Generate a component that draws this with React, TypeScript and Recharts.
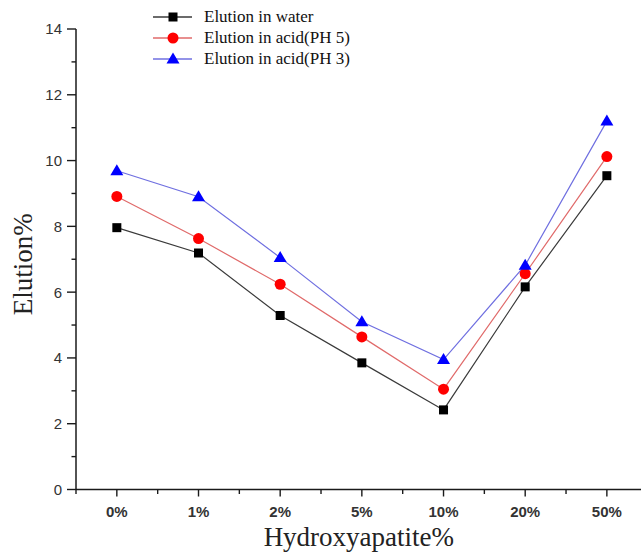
import React from 'react';
import { LineChart, Line, XAxis, YAxis, Legend } from 'recharts';

// Hydroxyapatite content on the x axis
const categories = ['0%', '1%', '2%', '5%', '10%', '20%', '50%'];

// Elution%
const waterValues = [7.96, 7.19, 5.29, 3.85, 2.42, 6.16, 9.54];
const acidPh5Values = [8.91, 7.63, 6.24, 4.64, 3.05, 6.56, 10.12];
const acidPh3Values = [9.69, 8.9, 7.05, 5.1, 3.95, 6.82, 11.2];

const yTicks = [0, 1, 2, 3, 4, 5, 6, 7, 8, 9, 10, 11, 12, 13, 14];

const SERIF = '"Liberation Serif", "Times New Roman", serif';
const SANS = '"Liberation Sans", Arial, sans-serif';
const AXIS_COLOR = '#1a1a1a';

type Shape = 'square' | 'circle' | 'triangle';

const series: { key: string; name: string; values: number[]; line: string; marker: string; shape: Shape }[] = [
  { key: 'water', name: 'Elution in water', values: waterValues, line: '#3a3a3a', marker: '#000000', shape: 'square' },
  { key: 'ph5', name: 'Elution in acid(PH 5)', values: acidPh5Values, line: '#e06a6a', marker: '#ff0000', shape: 'circle' },
  { key: 'ph3', name: 'Elution in acid(PH 3)', values: acidPh3Values, line: '#6f6fe0', marker: '#0000ff', shape: 'triangle' },
];

const chartData = categories.map((cat, i) => {
  const row: { [k: string]: string | number } = { cat };
  series.forEach(s => {
    row[s.key] = s.values[i];
  });
  return row;
});

function Marker({ shape, cx, cy, color }: { shape: Shape; cx: number; cy: number; color: string }) {
  if (shape === 'square') {
    return <rect x={cx - 4.5} y={cy - 4.5} width={9} height={9} fill={color} />;
  }
  if (shape === 'circle') {
    return <circle cx={cx} cy={cy} r={5.5} fill={color} />;
  }
  return (
    <polygon
      points={`${cx},${cy - 6.5} ${cx + 6.5},${cy + 4.5} ${cx - 6.5},${cy + 4.5}`}
      fill={color}
    />
  );
}

// y axis: long ticks with labels on even values, short ticks in between
const YTick = (props: any) => {
  const { x, y, payload } = props;
  const major = payload.value % 2 === 0;
  return (
    <g>
      <line x1={x - (major ? 9 : 4.5)} x2={x} y1={y} y2={y} stroke={AXIS_COLOR} strokeWidth={1.4} />
      {major && (
        <text
          x={x - 14}
          y={y}
          dy="0.36em"
          textAnchor="end"
          fontSize={15}
          fontFamily={SANS}
          fill="#333"
        >
          {payload.value}
        </text>
      )}
    </g>
  );
};

// x axis: ticks at the categories, short ticks on the band edges
const XTick = (props: any) => {
  const { x, y, payload, index, visibleTicksCount } = props;
  const count = visibleTicksCount || categories.length;
  const step = (typeof props.width === 'number' ? props.width : 571.7) / count;
  return (
    <g>
      <line x1={x} x2={x} y1={y} y2={y + 7} stroke={AXIS_COLOR} strokeWidth={1.4} />
      <line x1={x - step / 2} x2={x - step / 2} y1={y} y2={y + 4.5} stroke={AXIS_COLOR} strokeWidth={1.4} />
      {index === count - 1 && (
        <line x1={x + step / 2} x2={x + step / 2} y1={y} y2={y + 4.5} stroke={AXIS_COLOR} strokeWidth={1.4} />
      )}
      <text x={x} y={y + 27.5} textAnchor="middle" fontSize={15} fontWeight="bold" fontFamily={SANS} fill="#333">
        {payload.value}
      </text>
    </g>
  );
};

const renderLegend = () => (
  <div style={{ fontFamily: SERIF, fontSize: 17, color: '#111' }}>
    {series.map(s => (
      <div key={s.key} style={{ display: 'flex', alignItems: 'center', height: 21 }}>
        <svg width={39} height={14} style={{ display: 'block' }}>
          <line x1={0} x2={39} y1={7} y2={7} stroke={s.line} strokeWidth={1.5} />
          <Marker shape={s.shape} cx={20} cy={7} color={s.marker} />
        </svg>
        <span style={{ marginLeft: 12, whiteSpace: 'nowrap' }}>{s.name}</span>
      </div>
    ))}
  </div>
);

const renderYLabel = (props: any) => {
  const { viewBox } = props;
  const cx = viewBox.x + 23;
  const cy = viewBox.y + viewBox.height / 2 + 5;
  return (
    <text
      x={cx}
      y={cy}
      transform={`rotate(-90 ${cx} ${cy})`}
      textAnchor="middle"
      dy="0.35em"
      fontSize={27}
      fontFamily={SERIF}
      fill="#222"
    >
      Elution%
    </text>
  );
};

const renderXLabel = (props: any) => {
  const { viewBox } = props;
  return (
    <text
      x={viewBox.x + viewBox.width / 2 - 3}
      y={viewBox.y + 56.5}
      textAnchor="middle"
      fontSize={27}
      fontFamily={SERIF}
      fill="#222"
    >
      Hydroxyapatite%
    </text>
  );
};

export default function App() {
  return (
    <div style={{ position: 'fixed', left: 0, top: 0, width: 641, height: 553, overflow: 'hidden', background: '#fff' }}>
      <LineChart
        width={660}
        height={553}
        data={chartData}
        margin={{ top: 29, right: 12.3, left: 0, bottom: 0 }}
      >
        <XAxis
          dataKey="cat"
          scale="band"
          height={63.5}
          interval={0}
          tickSize={0}
          tickMargin={0}
          tickLine={false}
          axisLine={{ stroke: AXIS_COLOR, strokeWidth: 1.5 }}
          tick={<XTick />}
          label={{ content: renderXLabel }}
        />
        <YAxis
          width={76}
          domain={[0, 14]}
          ticks={yTicks}
          interval={0}
          tickSize={0}
          tickMargin={0}
          tickLine={false}
          axisLine={{ stroke: AXIS_COLOR, strokeWidth: 1.5 }}
          tick={<YTick />}
          label={{ content: renderYLabel }}
        />
        <Legend
          layout="horizontal"
          verticalAlign="middle"
          align="center"
          content={renderLegend}
          wrapperStyle={{ top: 6.5, left: 153, width: 320, height: 63 }}
        />
        {series.map(s => (
          <Line
            key={s.key}
            dataKey={s.key}
            name={s.name}
            type="linear"
            stroke={s.line}
            strokeWidth={1.2}
            isAnimationActive={false}
            dot={(p: any) => (
              <Marker key={`${s.key}-${p.index}`} shape={s.shape} cx={p.cx} cy={p.cy} color={s.marker} />
            )}
            activeDot={false}
          />
        ))}
      </LineChart>
    </div>
  );
}
